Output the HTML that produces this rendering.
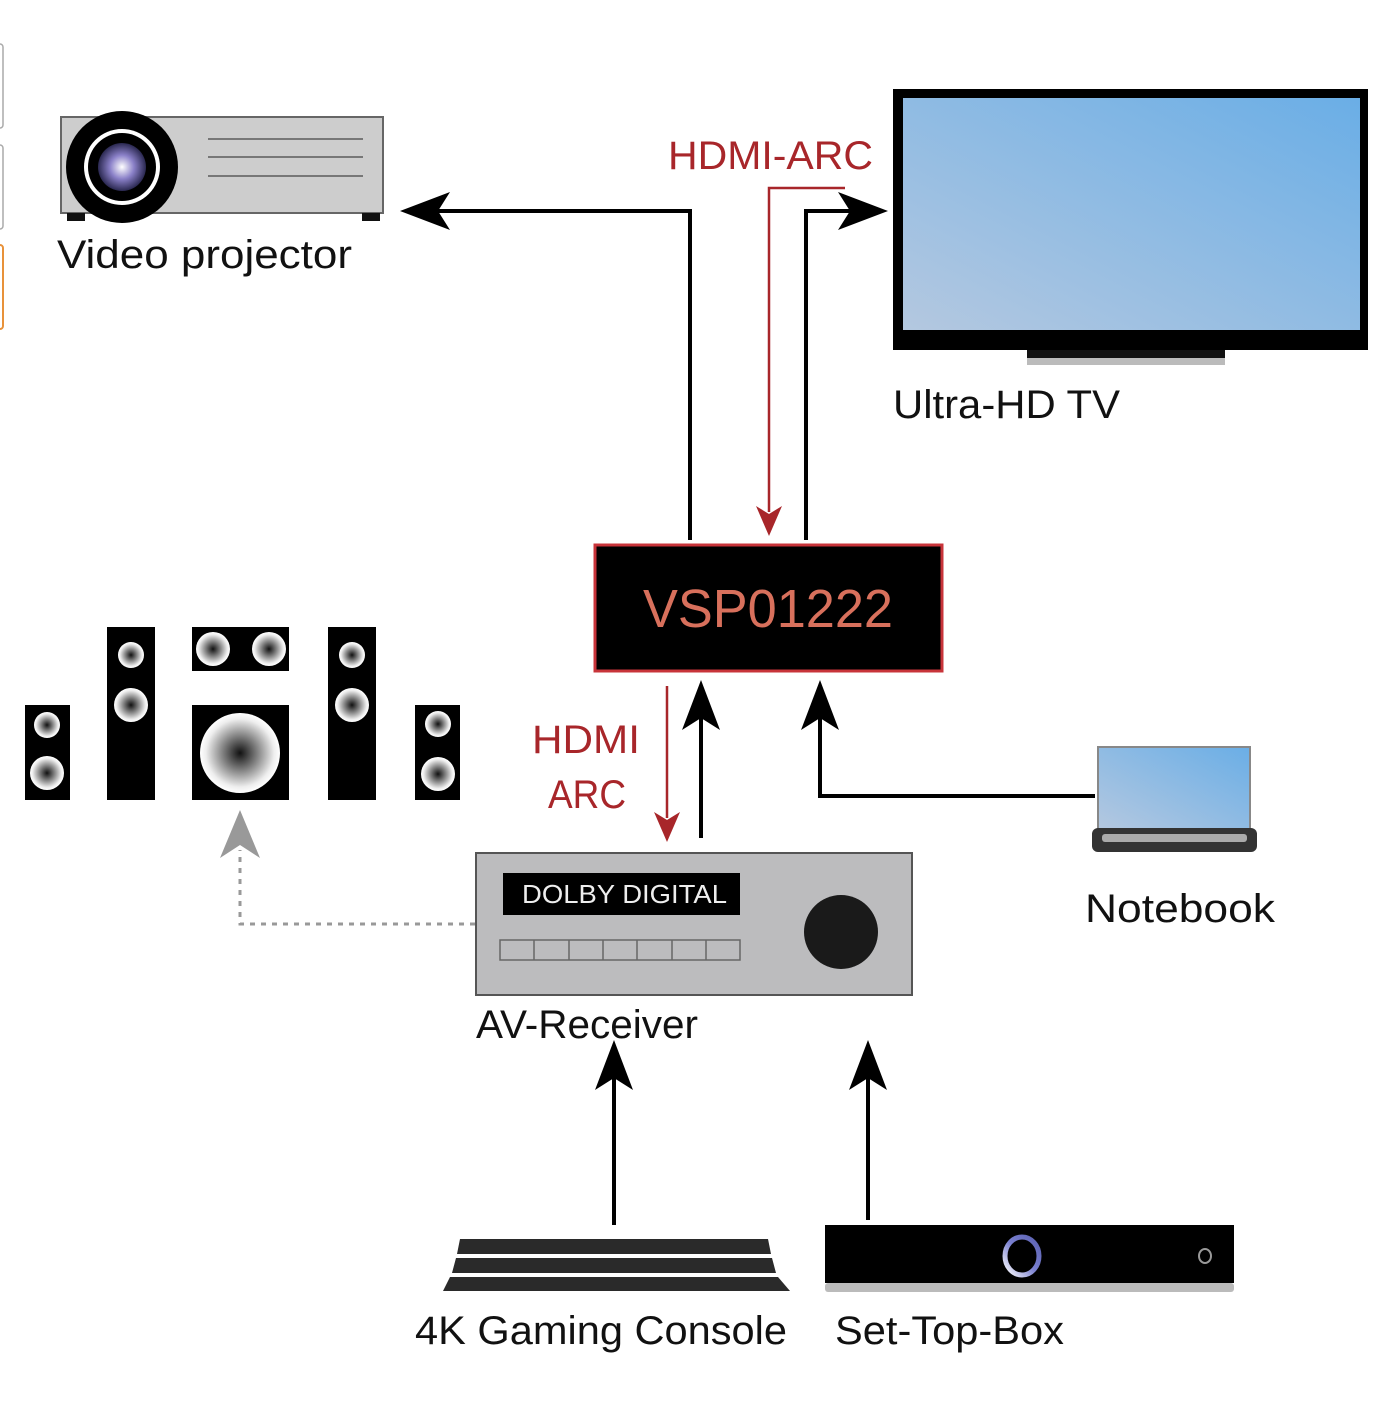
<!DOCTYPE html>
<html><head><meta charset="utf-8"><style>
html,body{margin:0;padding:0;background:#fff;}
svg{display:block;}
text{font-family:"Liberation Sans","DejaVu Sans",sans-serif;}
</style></head><body>
<svg width="1384" height="1404" viewBox="0 0 1384 1404" xmlns="http://www.w3.org/2000/svg">
<defs>
<radialGradient id="drv" cx="50%" cy="50%" r="50%">
<stop offset="0" stop-color="#111"/><stop offset="0.85" stop-color="#eee"/><stop offset="1" stop-color="#fff"/>
</radialGradient>
<radialGradient id="lens" cx="50%" cy="50%" r="50%">
<stop offset="0" stop-color="#fff"/><stop offset="0.5" stop-color="#8a80c8"/><stop offset="1" stop-color="#2a2850"/>
</radialGradient>
<linearGradient id="scr" x1="0" y1="1" x2="1" y2="0">
<stop offset="0" stop-color="#b4c8e0"/><stop offset="1" stop-color="#6aaee6"/>
</linearGradient>
<linearGradient id="ring" x1="0" y1="1" x2="1" y2="0">
<stop offset="0" stop-color="#fff"/><stop offset="0.5" stop-color="#7a80d0"/><stop offset="1" stop-color="#5a60b0"/>
</linearGradient>
</defs>

<rect x="-4" y="44" width="7" height="84" rx="3" fill="none" stroke="#aaa" stroke-width="1.5"/>
<rect x="-4" y="145" width="7" height="84" rx="3" fill="none" stroke="#aaa" stroke-width="1.5"/>
<rect x="-4" y="245" width="7" height="84" rx="3" fill="none" stroke="#e8923a" stroke-width="2"/>

<!-- Projector -->
<rect x="61" y="117" width="322" height="96" fill="#cdcdcd" stroke="#666" stroke-width="2"/>
<rect x="67" y="213" width="18" height="8" fill="#111"/>
<rect x="362" y="213" width="18" height="8" fill="#111"/>
<line x1="208" y1="139" x2="363" y2="139" stroke="#777" stroke-width="2"/>
<line x1="208" y1="157" x2="363" y2="157" stroke="#777" stroke-width="2"/>
<line x1="208" y1="176" x2="363" y2="176" stroke="#777" stroke-width="2"/>
<circle cx="122" cy="167" r="56" fill="#000"/>
<circle cx="122" cy="167" r="38" fill="#fff"/>
<circle cx="122" cy="167" r="34" fill="#000"/>
<circle cx="122" cy="167" r="24" fill="url(#lens)"/>
<text x="57" y="268" font-size="40" fill="#111" textLength="295" lengthAdjust="spacingAndGlyphs">Video projector</text>

<!-- TV -->
<rect x="893" y="89" width="475" height="261" fill="#000"/>
<rect x="903" y="98" width="457" height="232" fill="url(#scr)"/>
<rect x="1027" y="350" width="198" height="8" fill="#111"/>
<rect x="1027" y="358" width="198" height="7" fill="#bbb"/>
<text x="893" y="418" font-size="40" fill="#111" textLength="227" lengthAdjust="spacingAndGlyphs">Ultra-HD TV</text>

<text x="668" y="169" font-size="40" fill="#a8262a" textLength="205" lengthAdjust="spacingAndGlyphs">HDMI-ARC</text>
<polyline points="845,188 769,188 769,512" fill="none" stroke="#a8262a" stroke-width="2.5"/>
<polygon points="769,536 756,506 769,514 782,506" fill="#a8262a"/>

<polyline points="690,540 690,211 430,211" fill="none" stroke="#000" stroke-width="4"/>
<polygon points="400,211 450,192 438,211 450,230" fill="#000"/>
<polyline points="806,540 806,211 860,211" fill="none" stroke="#000" stroke-width="4"/>
<polygon points="888,211 838,192 850,211 838,230" fill="#000"/>

<rect x="595" y="545" width="347" height="126" fill="#000" stroke="#c8343a" stroke-width="3"/>
<text x="643" y="627" font-size="54" fill="#d8705c" textLength="250" lengthAdjust="spacingAndGlyphs">VSP01222</text>

<text x="532" y="753" font-size="40" fill="#a8262a" textLength="108" lengthAdjust="spacingAndGlyphs">HDMI</text>
<text x="548" y="808" font-size="40" fill="#a8262a" textLength="78" lengthAdjust="spacingAndGlyphs">ARC</text>
<line x1="667" y1="686" x2="667" y2="818" stroke="#a8262a" stroke-width="2.5"/>
<polygon points="667,842 654,812 667,820 680,812" fill="#a8262a"/>
<line x1="701" y1="838" x2="701" y2="705" stroke="#000" stroke-width="4"/>
<polygon points="701,680 682,730 701,718 720,730" fill="#000"/>

<polyline points="1095,796 820,796 820,705" fill="none" stroke="#000" stroke-width="4"/>
<polygon points="820,680 801,730 820,718 839,730" fill="#000"/>

<rect x="1098" y="747" width="152" height="82" fill="url(#scr)" stroke="#888" stroke-width="2"/>
<rect x="1092" y="828" width="165" height="24" rx="6" fill="#333"/>
<rect x="1102" y="834" width="145" height="8" rx="3" fill="#aaa"/>
<text x="1085" y="922" font-size="40" fill="#111" textLength="190" lengthAdjust="spacingAndGlyphs">Notebook</text>

<!-- Speakers -->
<rect x="25" y="705" width="45" height="95" fill="#000"/>
<circle cx="47" cy="725" r="13" fill="url(#drv)"/>
<circle cx="47" cy="773" r="17" fill="url(#drv)"/>
<rect x="107" y="627" width="48" height="173" fill="#000"/>
<circle cx="131" cy="655" r="13" fill="url(#drv)"/>
<circle cx="131" cy="705" r="17" fill="url(#drv)"/>
<rect x="192" y="627" width="97" height="44" fill="#000"/>
<circle cx="213" cy="649" r="17" fill="url(#drv)"/>
<circle cx="269" cy="649" r="17" fill="url(#drv)"/>
<rect x="192" y="705" width="97" height="95" fill="#000"/>
<circle cx="240" cy="753" r="40" fill="url(#drv)"/>
<rect x="328" y="627" width="48" height="173" fill="#000"/>
<circle cx="352" cy="655" r="13" fill="url(#drv)"/>
<circle cx="352" cy="705" r="17" fill="url(#drv)"/>
<rect x="415" y="705" width="45" height="95" fill="#000"/>
<circle cx="438" cy="724" r="13" fill="url(#drv)"/>
<circle cx="438" cy="774" r="17" fill="url(#drv)"/>

<polyline points="475,924 240,924 240,850" fill="none" stroke="#999" stroke-width="3" stroke-dasharray="5,6"/>
<polygon points="240,810 220,858 240,845 260,858" fill="#999"/>

<!-- AV receiver -->
<rect x="476" y="853" width="436" height="142" fill="#bcbcbe" stroke="#555" stroke-width="2"/>
<rect x="503" y="873" width="237" height="42" fill="#000"/>
<text x="522" y="903" font-size="26" fill="#eee" font-family="Liberation Mono, monospace" textLength="205" lengthAdjust="spacingAndGlyphs">DOLBY DIGITAL</text>
<g fill="none" stroke="#666" stroke-width="1.5">
<rect x="500" y="940" width="240" height="20"/>
<line x1="534" y1="940" x2="534" y2="960"/><line x1="569" y1="940" x2="569" y2="960"/>
<line x1="603" y1="940" x2="603" y2="960"/><line x1="637" y1="940" x2="637" y2="960"/>
<line x1="672" y1="940" x2="672" y2="960"/><line x1="706" y1="940" x2="706" y2="960"/>
</g>
<circle cx="841" cy="932" r="37" fill="#1a1a1a"/>
<text x="476" y="1038" font-size="40" fill="#111" textLength="222" lengthAdjust="spacingAndGlyphs">AV-Receiver</text>

<line x1="614" y1="1225" x2="614" y2="1068" stroke="#000" stroke-width="4"/>
<polygon points="614,1040 595,1090 614,1078 633,1090" fill="#000"/>
<line x1="868" y1="1220" x2="868" y2="1068" stroke="#000" stroke-width="4"/>
<polygon points="868,1040 849,1090 868,1078 887,1090" fill="#000"/>

<polygon points="460,1239 768,1239 771,1254 457,1254" fill="#2a2a2a"/>
<polygon points="456,1258 772,1258 776,1273 452,1273" fill="#2a2a2a"/>
<polygon points="450,1277 778,1277 790,1291 443,1291" fill="#2a2a2a"/>
<text x="415" y="1344" font-size="40" fill="#111" textLength="372" lengthAdjust="spacingAndGlyphs">4K Gaming Console</text>

<rect x="825" y="1225" width="409" height="58" fill="#000"/>
<rect x="825" y="1283" width="409" height="9" rx="3" fill="#bbb"/>
<ellipse cx="1022" cy="1256" rx="17" ry="19" fill="none" stroke="url(#ring)" stroke-width="5"/>
<ellipse cx="1205" cy="1256" rx="6" ry="7" fill="none" stroke="#999" stroke-width="2"/>
<text x="835" y="1344" font-size="40" fill="#111" textLength="229" lengthAdjust="spacingAndGlyphs">Set-Top-Box</text>
</svg>
</body></html>
